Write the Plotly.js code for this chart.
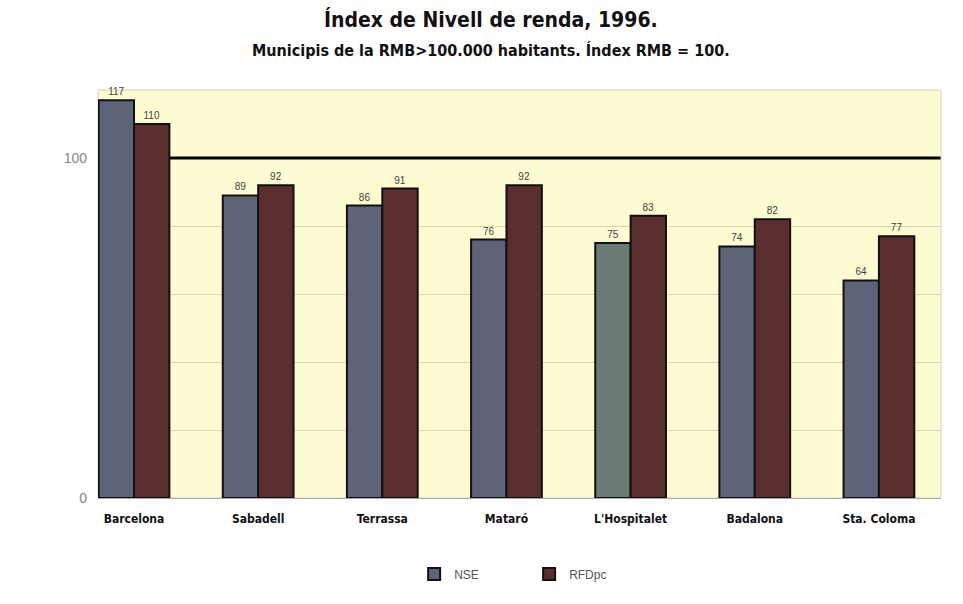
<!DOCTYPE html>
<html><head><meta charset="utf-8">
<script src="https://cdn.plot.ly/plotly-3.0.1.min.js"></script>
<style>body{margin:0;background:#fff}#c{width:963px;height:604px}</style>
</head><body><div id="c"></div>
<script>
const categories = ["Barcelona","Sabadell","Terrassa","Mataró","L'Hospitalet","Badalona","Sta. Coloma"];
const nse = [117, 89, 86, 76, 75, 74, 64];
const rfdpc = [110, 92, 91, 92, 83, 82, 77];
const nseColors = ["#5d6379","#5d6379","#5d6379","#5d6379","#6b7a74","#5d6379","#5d6379"];
const FONT = "Liberation Sans Narrow, DejaVu Sans Condensed, Arial Narrow, sans-serif";

const traces = [
  {type:"bar", name:"NSE", x:categories, y:nse,
   marker:{color:nseColors, line:{color:"#111", width:2}},
   text:nse.map(String), textposition:"outside", cliponaxis:false,
   textfont:{family:"Liberation Sans, Arial, sans-serif", size:10, color:"#444"}},
  {type:"bar", name:"RFDpc", x:categories, y:rfdpc,
   marker:{color:"#5a2e2f", line:{color:"#111", width:2}},
   text:rfdpc.map(String), textposition:"outside", cliponaxis:false,
   textfont:{family:"Liberation Sans, Arial, sans-serif", size:10, color:"#444"}}
];

const layout = {
  width:963, height:604,
  margin:{l:98, r:22, t:90, b:106},
  paper_bgcolor:"#ffffff", plot_bgcolor:"#fdfbd2",
  barmode:"group", bargap:0.43, bargroupgap:0,
  showlegend:true,
  legend:{orientation:"h", x:0.375, xanchor:"left", y:-0.186, yanchor:"middle",
          font:{family:"Liberation Sans, Arial, sans-serif", size:12, color:"#555"},
          entrywidth:70},
  xaxis:{type:"category", range:[-0.29,6.5], showgrid:false, showline:false, ticks:"",
         ticklabelstandoff:12,
         tickfont:{family:FONT, size:12, color:"#111", weight:"bold"}},
  yaxis:{range:[0,120], tickvals:[0,100], ticktext:["0","100"], showgrid:false,
         zeroline:true, zerolinecolor:"#aaa", zerolinewidth:1, showline:false,
         tickfont:{family:"Liberation Sans, Arial, sans-serif", size:14, color:"#888"},
         ticks:"", ticklen:0, ticklabelstandoff:10,
         minor:{tickvals:[20,40,60,80,120], showgrid:true, gridcolor:"#d9d6b4", gridwidth:1}},
  shapes:[
    {type:"line", xref:"paper", yref:"y", x0:0, x1:1, y0:100, y1:100, line:{color:"#000", width:3}, layer:"between"},
    {type:"rect", xref:"paper", yref:"paper", x0:0, x1:1, y0:0, y1:1, line:{color:"#d5d3c0", width:1}, layer:"below"}
  ],
  annotations:[
    {xref:"paper", yref:"paper", x:0.466, y:1.172, xanchor:"center", yanchor:"middle", showarrow:false,
     text:"Índex de Nivell de renda, 1996.", font:{family:FONT, size:21, color:"#111", weight:"bold"}},
    {xref:"paper", yref:"paper", x:0.466, y:1.098, xanchor:"center", yanchor:"middle", showarrow:false,
     text:"Municipis de la RMB>100.000 habitants. Índex RMB = 100.", font:{family:FONT, size:16, color:"#111", weight:"bold"}}
  ]
};
Plotly.newPlot("c", traces, layout, {displayModeBar:false});
</script></body></html>
